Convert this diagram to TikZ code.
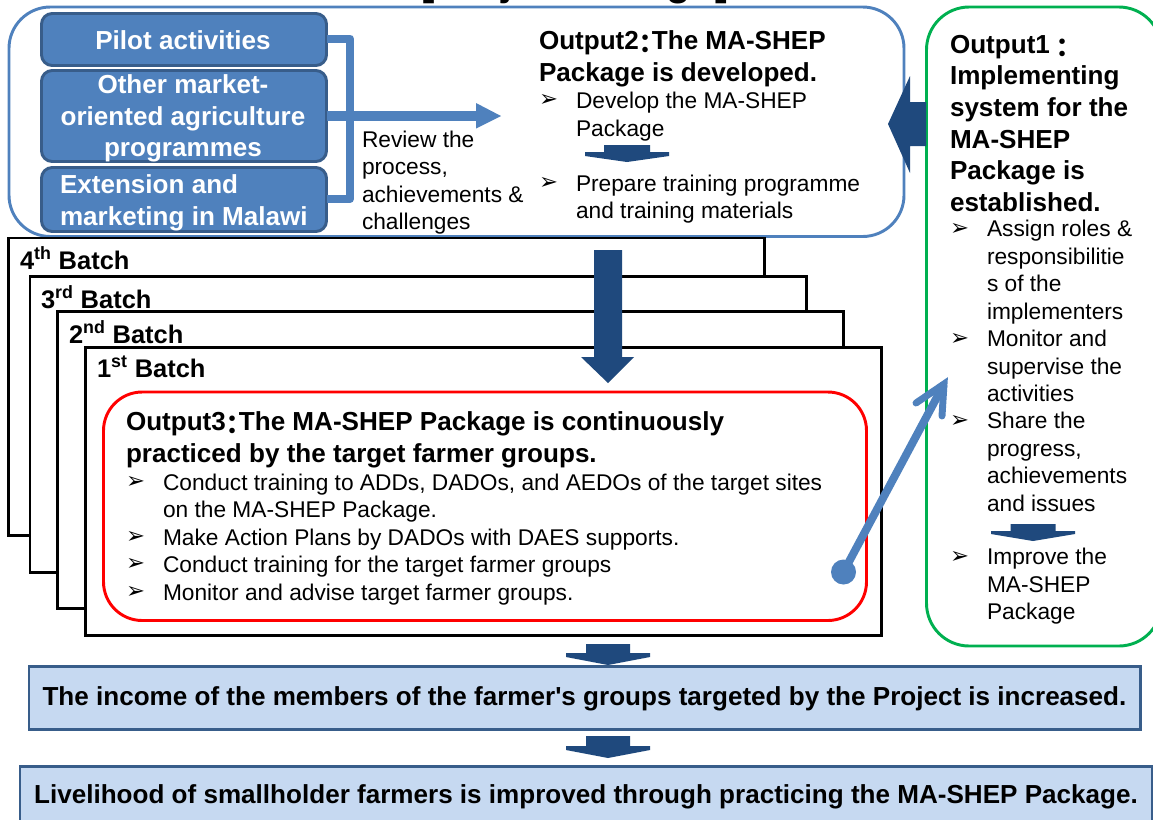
\documentclass[tikz,border=0pt]{standalone}
\usepackage{fontspec}
\setmainfont{Liberation Sans}
\newfontfamily\symfont{DejaVu Sans}
\newfontfamily\cjkfont{Noto Sans CJK JP}
\newfontfamily\plainfont{Liberation Sans}
\definecolor{bluefill}{HTML}{4F81BD}
\definecolor{blueedge}{HTML}{385D8A}
\definecolor{navy}{HTML}{1F497D}
\definecolor{palefill}{HTML}{C6D9F1}
\definecolor{greenline}{HTML}{00B050}
\newcommand{\fs}{\fontsize{17.04}{20.55}\selectfont}
\newcommand{\fb}{\fontsize{19.55}{23.7}\selectfont\bfseries}
\newcommand{\fbatch}{\fontsize{19.1}{21}\selectfont\bfseries}
\newcommand{\fc}[1][9.75pt]{\makebox[#1][c]{\raisebox{-3pt}{\cjkfont\bfseries ：}}}
\newcommand{\apos}{{\plainfont\bfseries '}}
\tikzset{
  x=0.75pt,y=-0.75pt,
  every node/.style={outer sep=0pt},
  txt/.style={inner sep=0pt,anchor=north west,align=left,font=\fs},
  head/.style={inner sep=0pt,anchor=north west,align=left,font=\fb},
  bul/.style={inner sep=0pt,anchor=west,font=\fontsize{17}{17}\selectfont\symfont},
  srcbox/.style={draw=blueedge,fill=bluefill,line width=2.2pt,rounded corners=8pt,anchor=north west,inner sep=0pt},
  srctext/.style={inner sep=0pt,text=white,font=\fb,align=center},
  batch/.style={draw=black,fill=white,line width=2pt,anchor=north west,inner sep=0pt},
  batchlabel/.style={inner sep=0pt,anchor=north west,font=\fbatch},
  result/.style={draw=blueedge,fill=palefill,line width=2.2pt,anchor=north west,inner sep=0pt},
}
% x, top, shaft half width, wing start, wing end, tip
\newcommand{\blockdown}[6]{%
  \fill[navy] (#1-#3,#2) -- (#1+#3,#2) -- (#1+#3,#2+#4) -- (#1+42,#2+#4) -- (#1+42,#2+#5) -- (#1,#2+#6) -- (#1-42,#2+#5) -- (#1-42,#2+#4) -- (#1-#3,#2+#4) -- cycle;}
\begin{document}
\begin{tikzpicture}
\useasboundingbox (0,0) rectangle (1153,819);
\clip (0,0) rectangle (1153,819);
% title cut by the page edge
\node[inner sep=0pt,anchor=base,font=\fontsize{30}{30}\selectfont\bfseries] (title) at (575,-5) {[Project Design]};
% output 2 frame
\node[draw=bluefill,fill=white,line width=2.2pt,rounded corners=31pt,minimum width=895*0.75pt,minimum height=229.5*0.75pt,anchor=north west,inner sep=0pt] (frame) at (9,7) {};
% source boxes
\node[srcbox,minimum width=285*0.75pt,minimum height=52*0.75pt] (pilot) at (41.5,13.5) {};
\node[srctext] (pilott) at (183,40) {Pilot activities};
\node[srcbox,minimum width=285*0.75pt,minimum height=91*0.75pt] (other) at (41.5,70.5) {};
\node[srctext] (othert) at (183,118.5) {Other market-\\oriented agriculture\\programmes};
\node[srcbox,minimum width=285*0.75pt,minimum height=64*0.75pt] (ext) at (41.5,167.5) {};
\node[inner sep=0pt,anchor=north west,align=left,text=white,font=\fb] (extt) at (60,175) {Extension and\\marketing in Malawi};
% connectors
\coordinate (jt) at (350,38.5);
\coordinate (jb) at (350,199);
\coordinate (tip) at (476,116);
\draw[bluefill,line width=6pt,line join=round] (pilot.east |- jt) -- (jt) -- (jb) -- (ext.east |- jb);
\draw[bluefill,line width=6.8pt] (other.east |- tip) -- (tip);
\fill[bluefill] (476,103) -- (501,116) -- (476,128.5) -- cycle;
% texts
\node[txt] (review) at (362,131) {Review the\\process,\\achievements \&\\challenges};
\node[head] (o2) at (539,31) {Output2\fc The MA-SHEP\\Package is developed.};
\node[bul] (b2a) at (539,100) {➢};
\node[txt] (d2a) at (576,92.5) {Develop the MA-SHEP\\Package};
\node[bul] (b2b) at (539,183) {➢};
\node[txt] (d2b) at (576,175) {Prepare training programme\\and training materials};
\blockdown{627}{145}{23}{7}{11}{17}
% batches
\node[batch,minimum width=756*0.75pt,minimum height=297.5*0.75pt] (b4) at (8.8,238) {};
\node[batch,minimum width=776.5*0.75pt,minimum height=296*0.75pt] (b3) at (30,276.5) {};
\node[batch,minimum width=785.7*0.75pt,minimum height=297*0.75pt] (b2) at (57.8,311.5) {};
\node[batch,minimum width=796*0.75pt,minimum height=288*0.75pt] (b1) at (85.5,347.5) {};
\node[batchlabel] (t4) at (20,247) {4\textsuperscript{th} Batch};
\node[batchlabel] (t3) at (41,286) {3\textsuperscript{rd} Batch};
\node[batchlabel] (t2) at (69,321) {2\textsuperscript{nd} Batch};
\node[batchlabel] (t1) at (97,356) {1\textsuperscript{st} Batch};
% output 3
\node[draw=red,fill=white,line width=2.2pt,rounded corners=29pt,minimum width=763*0.75pt,minimum height=228.5*0.75pt,anchor=north west,inner sep=0pt] (o3box) at (103.5,392) {};
\node[head] (o3) at (126,412) {Output3\fc The MA-SHEP Package is continuously\\practiced by the target farmer groups.};
\foreach \yy/\tt in {482/{Conduct training to ADDs, DADOs, and AEDOs of the target sites\\on the MA-SHEP Package.},537/{Make Action Plans by DADOs with DAES supports.},564/{Conduct training for the target farmer groups},592/{Monitor and advise target farmer groups.}}{
  \node[bul] at (126,\yy) {➢};
  \node[txt] at (163,\yy-8) {\tt};
}
% big arrow down
\fill[navy] (594,250) -- (622,250) -- (622,357) -- (634,357) -- (608,383) -- (581,357) -- (594,357) -- cycle;
% output 1
\node[draw=greenline,fill=white,line width=2.2pt,rounded corners=32pt,minimum width=235*0.75pt,minimum height=639*0.75pt,anchor=north west,inner sep=0pt] (o1box) at (926.5,7) {};
\fill[navy] (926,102) -- (926,146) -- (910,146) -- (910,173) -- (888,124) -- (910,76) -- (910,102) -- cycle;
\node[head] (o1) at (950,35) {Output1\fc[19.5pt]\\Implementing\\system for the\\MA-SHEP\\Package is\\established.};
\node[bul] (ba1) at (950,229) {➢};
\node[txt] (p1) at (987,220.5) {Assign roles \&\\responsibilitie\\s of the\\implementers};
\node[bul] (ba2) at (950,339) {➢};
\node[txt] (p2) at (987,330.5) {Monitor and\\supervise the\\activities};
\node[bul] (ba3) at (950,421) {➢};
\node[txt] (p3) at (987,412.5) {Share the\\progress,\\achievements\\and issues};
\blockdown{1033}{524}{22.5}{7}{10}{17}
\node[bul] (ba4) at (950,557) {➢};
\node[txt] (p4) at (987,548.5) {Improve the\\MA-SHEP\\Package};
% feedback arrow
\coordinate (dot) at (843.5,572);
\coordinate (fb) at (944,384);
\fill[bluefill] (dot) circle (12.5);
\draw[bluefill,line width=6pt] (dot) -- (fb);
\draw[bluefill,line width=5.2pt,line cap=round,line join=miter] (916,403) -- (fb) -- (942,416);
% results
\node[result,minimum width=1111.5*0.75pt,minimum height=63.5*0.75pt] (r1) at (29,666.2) {};
\node[inner sep=0pt,font=\fb] (r1t) at (584.5,698.5) {The income of the members of the farmer\apos s groups targeted by the Project is increased.};
\node[result,minimum width=1132*0.75pt,minimum height=60*0.75pt] (r2) at (20,766.2) {};
\node[inner sep=0pt,anchor=base,font=\fb] (r2t) at (586,803) {Livelihood of smallholder farmers is improved through practicing the MA-SHEP Package.};
\blockdown{608}{644}{22}{9}{13}{21}
\blockdown{608}{736}{22}{10}{14}{22}
\end{tikzpicture}
\end{document}
